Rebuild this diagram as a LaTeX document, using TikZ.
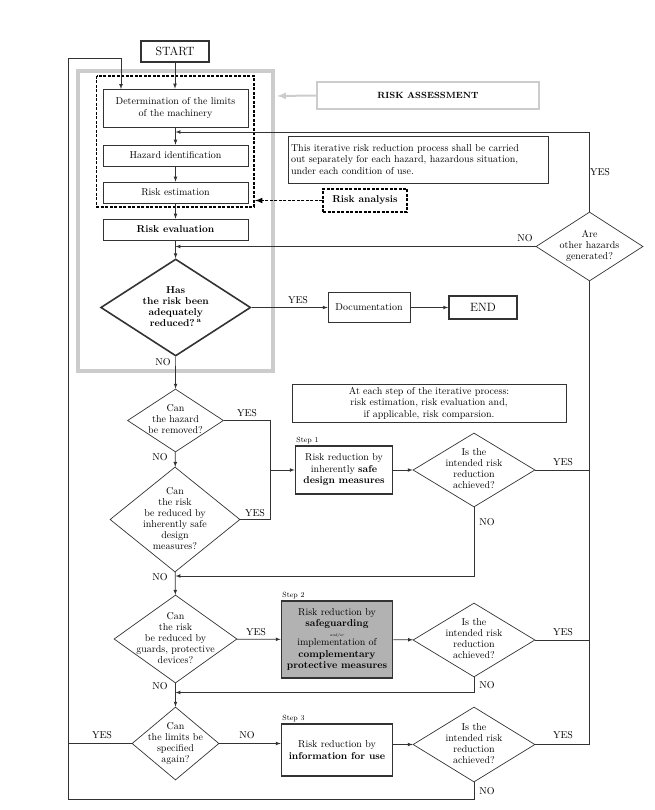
\documentclass[tikz,border=0pt]{standalone}
\usetikzlibrary{shapes.geometric,positioning}

% diamond text that does not grow the shape
\newcommand{\dq}[1]{\makebox[0pt]{\smash{\raisebox{-2.5pt}{\begin{tabular}{@{}c@{}}#1\end{tabular}}}}}

\begin{document}
\begin{tikzpicture}
        [x=1pt,y=-1pt,>=latex,
        font=\fontsize{10}{11.5}\selectfont,
        conn/.style={draw=black!80,line width=0.7pt},
        box/.style={conn,rectangle,align=center,inner sep=2pt},
        stepbox/.style={box,line width=1.6pt},
        dec/.style={conn,diamond,inner sep=0pt,font=\fontsize{10}{11}\selectfont},
        analysis/.style={line width=1.5pt,dash pattern=on 3pt off 1.5pt},
        yn/.style={inner sep=0pt},
        steplbl/.style={font=\fontsize{7.5}{9}\selectfont,above right,inner sep=1.5pt},
        raframe/.style={draw=gray!40,line width=3.5pt}]

        \useasboundingbox (0,0) rectangle (654,810);

        % risk assessment frame
        \draw[raframe] (78,71) rectangle (273,371);
        \node[draw=gray!40,line width=2.5pt,minimum width=222pt,minimum height=27pt,inner sep=0pt] (ra) at (428,95.5)
            {\fontsize{9}{11}\selectfont\bfseries RISK ASSESSMENT};
        \coordinate (raend) at (277,96);
        \draw[gray!40,line width=2pt,->] (ra.west) -- (raend);

        % risk analysis frame
        \draw[analysis] (96.7,76) rectangle (254,207);
        \node[draw,analysis,minimum width=84pt,minimum height=23pt,inner sep=0pt] (riskan) at (365,200.5) {\textbf{Risk analysis}};
        \coordinate (anaend) at (255,200.5);
        \draw[analysis,->] (riskan.west) -- (anaend);

        % main column
        \node[stepbox,minimum width=68pt,minimum height=21pt,font=\fontsize{12}{14}\selectfont] (start) at (175,51.5) {START};
        \node[box,minimum width=145pt,minimum height=38pt] (det) at (175.5,108) {Determination of the limits\\of the machinery};
        \node[box,minimum width=145pt,minimum height=21pt] (haz) at (175.5,155.5) {Hazard identification};
        \node[box,minimum width=145pt,minimum height=21pt] (est) at (175.5,192.5) {Risk estimation};
        \node[box,minimum width=145pt,minimum height=21pt] (eval) at (175.5,229.5) {\textbf{Risk evaluation}};
        \node[dec,line width=1.6pt,minimum width=150pt,minimum height=97pt] (has) at (175.7,307.5)
            {\dq{\textbf{Has}\\\textbf{the risk been}\\\textbf{adequately}\\\textbf{reduced?\,\textsuperscript{a}}}};
        \node[box,minimum width=82pt,minimum height=29.5pt] (doc) at (369,307.5) {Documentation};
        \node[stepbox,minimum width=68pt,minimum height=23pt,font=\fontsize{12}{14}\selectfont] (end) at (483,307.5) {END};
        \node[dec,minimum width=107pt,minimum height=69pt] (oth) at (589.5,246.5) {\dq{Are\\other hazards\\generated?}};

        % notes
        \node[box,align=left,minimum width=260pt,minimum height=47pt,text width=254pt] (note1) at (418,159.5)
            {This iterative risk reduction process shall be carried\\out separately for each hazard, hazardous situation,\\under each condition of use.};
        \node[box,minimum width=274pt,minimum height=38pt] (note2) at (429,403)
            {At each step of the iterative process:\\risk estimation, risk evaluation and,\\if applicable, risk comparsion.};

        % step 1
        \node[dec,minimum width=96pt,minimum height=63pt] (rem) at (175.5,420.5) {\dq{Can\\the hazard\\be removed?}};
        \node[dec,minimum width=130pt,minimum height=105pt] (inh) at (175,519.5)
            {\dq{Can\\the risk\\be reduced by\\inherently safe\\design\\measures?}};
        \node[stepbox,minimum width=97pt,minimum height=48pt] (s1) at (344,470) {Risk reduction by\\inherently \textbf{safe}\\\textbf{design measures}};
        \node[steplbl] (s1lbl) at (s1.north west) {Step 1};
        \node[dec,minimum width=122pt,minimum height=74pt] (ok1) at (474,470) {\dq{Is the\\intended risk\\reduction\\achieved?}};

        % step 2
        \node[dec,minimum width=123pt,minimum height=88pt] (grd) at (175.5,639)
            {\dq{Can\\the risk\\be reduced by\\guards, protective\\devices?}};
        \node[stepbox,fill=gray!60,minimum width=111pt,minimum height=77pt] (s2) at (337,639.5)
            {\begin{tabular}{@{}c@{}}Risk reduction by\\\textbf{safeguarding}\\[-2pt]
            {\fontsize{4}{4}\selectfont\itshape and/or}\\[-2pt]implementation of\\
            \textbf{complementary}\\\textbf{protective measures}\end{tabular}};
        \node[steplbl] (s2lbl) at (s2.north west) {Step 2};
        \node[dec,minimum width=122pt,minimum height=74pt] (ok2) at (474,640) {\dq{Is the\\intended risk\\reduction\\achieved?}};

        % step 3
        \node[dec,minimum width=87pt,minimum height=73pt] (lim) at (175.5,743.5) {\dq{Can\\the limits be\\specified\\again?}};
        \node[stepbox,minimum width=111pt,minimum height=52pt] (s3) at (337,750) {Risk reduction by\\\textbf{information for use}};
        \node[steplbl] (s3lbl) at (s3.north west) {Step 3};
        \node[dec,minimum width=122pt,minimum height=75pt] (ok3) at (474,744.5) {\dq{Is the\\intended risk\\reduction\\achieved?}};

        % junctions
        \coordinate (fbtop) at (175.5,132);
        \coordinate (fbno) at (175.5,246.5);
        \coordinate (jone) at (270,470);
        \coordinate (jtwo) at (175.5,576);
        \coordinate (jthree) at (175.5,692.5);
        \coordinate (loopbl) at (68,799);
        \coordinate (looptl) at (68,58);
        \coordinate (detin) at (121,89);

        % connectors
        \draw[conn,->] (start.south) -- (start.south |- det.north);
        \draw[conn,->] (det) -- (haz);
        \draw[conn,->] (haz) -- (est);
        \draw[conn,->] (est) -- (eval);
        \draw[conn,->] (eval) -- (has);
        \draw[conn,->] (oth.north) |- (fbtop);
        \draw[conn,->] (oth.west) -- (fbno);
        \draw[conn,->] (has) -- (doc);
        \draw[conn,->] (doc) -- (end);
        \draw[conn,->] (has) -- (rem);
        \draw[conn] (rem.east) -| (jone);
        \draw[conn] (inh.east) -| (jone);
        \draw[conn,->] (jone) -- (s1);
        \draw[conn,->] (rem) -- (inh);
        \draw[conn,->] (s1) -- (ok1);
        \draw[conn,->] (ok1.south) |- (jtwo);
        \draw[conn,->] (inh) -- (grd);
        \draw[conn,->] (grd) -- (s2);
        \draw[conn,->] (s2) -- (ok2);
        \draw[conn,->] (ok2.south) |- (jthree);
        \draw[conn,->] (grd) -- (lim);
        \draw[conn,->] (lim.east) -- (lim.east -| s3.west);
        \draw[conn,->] (ok3.west -| s3.east) -- (ok3.west);
        \draw[conn] (ok1.east) -- (ok1.east -| oth.south);
        \draw[conn] (ok2.east) -- (ok2.east -| oth.south);
        \draw[conn] (oth.south) |- (ok3.east);
        \draw[conn] (lim.west) -- (lim.west -| looptl);
        \draw[conn,->] (ok3.south) |- (loopbl) -- (looptl) -| (detin);

        % yes / no
        \node[yn] (yhas) at (298,300) {YES};
        \node[yn] (nhas) at (163,362) {NO};
        \node[yn] (noth) at (525,238) {NO};
        \node[yn] (yoth) at (600,172) {YES};
        \node[yn] (yrem) at (247,413) {YES};
        \node[yn] (nrem) at (160,457) {NO};
        \node[yn] (yinh) at (255,513) {YES};
        \node[yn] (ninh) at (160,577) {NO};
        \node[yn] (yokone) at (563,462) {YES};
        \node[yn] (nokone) at (487,522) {NO};
        \node[yn] (ygrd) at (256,632) {YES};
        \node[yn] (ngrd) at (160,686) {NO};
        \node[yn] (yoktwo) at (563,632) {YES};
        \node[yn] (noktwo) at (487,685) {NO};
        \node[yn] (ylim) at (102,735) {YES};
        \node[yn] (nlim) at (247,735) {NO};
        \node[yn] (yokthree) at (563,735) {YES};
        \node[yn] (nokthree) at (487,791) {NO};

\end{tikzpicture}
\end{document}
